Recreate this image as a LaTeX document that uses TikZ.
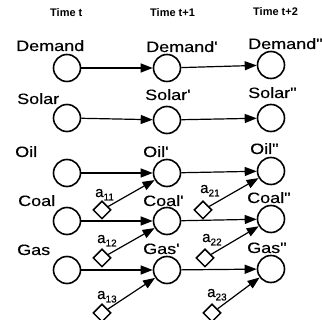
\documentclass[tikz,border=0pt]{standalone}
\usepackage{fontspec}
\setmainfont{Liberation Sans}
\newfontfamily\lblfont[FakeBold=0.3,Ligatures=NoCommon]{Liberation Sans}
\usetikzlibrary{shapes.geometric,arrows.meta}
\newcommand\wlbl[1]{\scalebox{1.2}[1]{#1}}
\newcommand\pq{\symbol{39}}
\newcommand\ppq{\symbol{34}}
\newcommand\asub[1]{a\raisebox{-3.5pt}{\fontsize{10}{10}\selectfont #1}}
\tikzset{
  st/.style={circle,draw,line width=1.6pt,minimum size=27pt,inner sep=0pt},
  dm/.style={diamond,draw,line width=1.5pt,minimum size=18pt,inner sep=0pt},
  lbl/.style={anchor=base west,inner sep=0pt,font=\lblfont\fontsize{15}{15}\selectfont},
  tlbl/.style={anchor=base west,inner sep=0pt,font=\bfseries\fontsize{11}{11}\selectfont},
  albl/.style={anchor=base west,inner sep=0pt,font=\lblfont\fontsize{15}{15}\selectfont},
  arr/.style={line width=1.2pt,-{Triangle[length=12pt,width=9pt]}}
}
\begin{document}
\begin{tikzpicture}[x=1pt,y=-1pt]
\useasboundingbox (0,0) rectangle (322,320);
\clip (0,0) rectangle (322,320);
% time labels
\node[tlbl] (t1) at (50,17) {Time t};
\node[tlbl] (t2) at (150,17) {Time t+1};
\node[tlbl] (t3) at (253,16) {Time t+2};
% state labels
\node[lbl] (l11) at (16,51) {\wlbl{Demand}};
\node[lbl] (l12) at (146,52) {\wlbl{Demand\pq}};
\node[lbl] (l13) at (248,49) {\wlbl{Demand\ppq}};
\node[lbl] (l21) at (17,104) {\wlbl{Solar}};
\node[lbl] (l22) at (145,100) {\wlbl{Solar\pq}};
\node[lbl] (l23) at (248,98) {\wlbl{Solar\ppq}};
\node[lbl] (l31) at (15,157) {\wlbl{Oil}};
\node[lbl] (l32) at (143,157) {\wlbl{Oil\pq}};
\node[lbl] (l33) at (250,154) {\wlbl{Oil\ppq}};
\node[lbl] (l41) at (18,206) {\wlbl{Coal}};
\node[lbl] (l42) at (143,206) {\wlbl{Coal\pq}};
\node[lbl] (l43) at (247,203) {\wlbl{Coal\ppq}};
\node[lbl] (l51) at (17,255) {\wlbl{Gas}};
\node[lbl] (l52) at (143,254) {\wlbl{Gas\pq}};
\node[lbl] (l53) at (247,253) {\wlbl{Gas\ppq}};
% circles
\node[st] (c11) at (67,68) {};
\node[st] (c12) at (167,68) {};
\node[st] (c13) at (271,65) {};
\node[st] (c21) at (67,118) {};
\node[st] (c22) at (167,120) {};
\node[st] (c23) at (271,118) {};
\node[st] (c31) at (67,173) {};
\node[st] (c32) at (167,173) {};
\node[st] (c33) at (271,171) {};
\node[st] (c41) at (67,221) {};
\node[st] (c42) at (167,221) {};
\node[st] (c43) at (271,219) {};
\node[st] (c51) at (67,270) {};
\node[st] (c52) at (167,270) {};
\node[st] (c53) at (271,269) {};
% diamonds
\node[dm] (d11) at (102,210) {};
\node[dm] (d12) at (102,258) {};
\node[dm] (d13) at (102,313) {};
\node[dm] (d21) at (203,210) {};
\node[dm] (d22) at (205,258) {};
\node[dm] (d23) at (212,313) {};
% action labels
\node[albl] (a11) at (95,197) {\asub{11}};
\node[albl] (a12) at (97,243) {\asub{12}};
\node[albl] (a13) at (97,299) {\asub{13}};
\node[albl] (a21) at (200,193) {\asub{21}};
\node[albl] (a22) at (202,242) {\asub{22}};
\node[albl] (a23) at (207,297) {\asub{23}};
% horizontal arrows
\foreach \r in {1,...,5}{
  \draw[arr] (c\r1) -- (c\r2);
  \draw[arr] (c\r2) -- (c\r3);
}
% diagonal arrows
\draw[arr] (d11) -- (c32);
\draw[arr] (d12) -- (c42);
\draw[arr] (d13) -- (c52);
\draw[arr] (d21) -- (c33);
\draw[arr] (d22) -- (c43);
\draw[arr] (d23) -- (c53);
\end{tikzpicture}
\end{document}
